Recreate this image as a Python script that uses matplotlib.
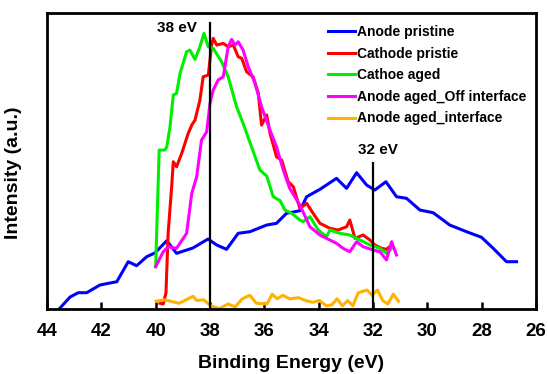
import numpy as np
import matplotlib.pyplot as plt

plt.rcParams['font.family'] = ['Liberation Sans', 'DejaVu Sans']
plt.rcParams['font.weight'] = 'bold'

# Anode pristine
ap_e = [43.52, 43.15, 42.85, 42.54, 42.05, 41.68, 41.43, 41.01, 40.70, 40.33, 40.03,
        39.59, 39.23, 38.63, 38.07, 37.75, 37.39, 36.96, 36.53, 35.91, 35.55, 35.18,
        34.69, 34.44, 33.95, 33.34, 32.97, 32.60, 32.23, 31.93, 31.52, 31.13, 30.76,
        30.27, 29.78, 29.17, 28.55, 28.00, 27.57, 27.08, 26.71]
ap_i = [1, 12, 16.3, 16.3, 24, 26, 27.3, 47.3, 43.3, 52.3, 56,
        68.3, 55.7, 61, 70, 64, 59.7, 75.7, 77.3, 84, 85.7, 95.7,
        98.3, 112.3, 119.7, 130.7, 120.7, 136.3, 124, 119, 127.3, 112.3, 110.7,
        99, 96.3, 84, 77.3, 71.7, 60.7, 47.3, 47.3]

# Cathode pristie
cp_e = [39.84, 39.72, 39.62, 39.54, 39.41, 39.35, 39.23, 39.04, 38.80, 38.67, 38.55,
        38.37, 38.25, 38.06, 37.94, 37.88, 37.75, 37.51, 37.33, 37.14, 36.96, 36.83,
        36.65, 36.41, 36.22, 36.10, 35.91, 35.79, 35.55, 35.36, 35.12, 34.93, 34.69,
        34.44, 34.20, 33.95, 33.58, 33.28, 32.97, 32.85, 32.66, 32.36, 32.11, 31.93,
        31.68, 31.50, 31.31]
cp_i = [5.7, 5, 16, 75.7, 122.3, 147.3, 142.3, 155.7, 175.7, 184, 189,
        209, 232.3, 234, 264, 270.7, 264, 265.7, 262.3, 264, 252.3, 250.7,
        237.3, 232.3, 215.7, 184, 194, 176, 152.3, 149, 127.3, 122.3, 100.7,
        105.7, 95.7, 85.7, 80.7, 79, 82.3, 89, 70.7, 74, 69, 64,
        60.7, 59.7, 64]

# Cathoe aged
ca_e = [40.0, 39.87, 39.66, 39.59, 39.47, 39.35, 39.23, 39.10, 38.86, 38.74, 38.55,
        38.37, 38.22, 38.06, 37.88, 37.57, 37.33, 37.02, 36.78, 36.47, 36.16, 35.91,
        35.67, 35.42, 35.24, 34.99, 34.69, 34.57, 34.32, 34.01, 33.71, 33.58, 33.22,
        32.85, 32.48, 32.11, 31.74, 31.50, 31.31]
ca_i = [42.3, 159, 159, 162.3, 182.3, 214, 215.7, 235.7, 257.3, 259, 249.7,
        262.3, 275.7, 262.3, 260.7, 247.3, 232.3, 202.3, 185.7, 162.3, 139, 133,
        112.3, 108.5, 99, 95.7, 89, 87.3, 92.3, 79, 72.3, 79, 75.7,
        74, 69, 64, 60.7, 55.7, 60.7]

# Anode aged_Off interface
ao_e = [40.0, 39.72, 39.54, 39.23, 38.86, 38.67, 38.49, 38.31, 38.12, 38.00, 37.88,
        37.70, 37.51, 37.33, 37.20, 37.08, 36.96, 36.78, 36.59, 36.34, 36.10, 35.79,
        35.55, 35.30, 35.06, 34.69, 34.32, 33.95, 33.71, 33.34, 33.10, 32.85, 32.60,
        32.36, 31.99, 31.74, 31.50, 31.31, 31.13]
ao_i = [42.3, 57.3, 62.3, 60.7, 75.7, 115.7, 132.3, 169, 177.3, 205.7, 219,
        229, 232.3, 262.3, 269.7, 264, 267.3, 259, 242.3, 225.7, 202.3, 179,
        162.3, 139, 120.5, 104, 82.3, 74, 70.7, 65.7, 60.7, 57.3, 67.3,
        62.3, 59, 57.3, 49, 67.3, 54]

# Anode aged_interface
ai_e = [39.98, 39.66, 39.14, 38.62, 38.49, 38.23, 37.97, 37.65, 37.33, 37.07, 36.81,
        36.53, 36.29, 35.90, 35.71, 35.52, 35.32, 35.06, 34.74, 34.48, 34.22, 33.97,
        33.71, 33.51, 33.32, 33.12, 32.93, 32.74, 32.54, 32.22, 32.03, 31.83, 31.64,
        31.45, 31.25, 31.06]
ai_i = [7.8, 9.2, 5.7, 12.7, 8.5, 9.2, 3.2, 0.5, 5, 2.1, 10.2,
        13.7, 5.7, 5, 14.8, 10.2, 13.7, 10.2, 11.3, 8.5, 6.7, 8.5,
        3.2, 4.2, 10.2, 3.2, 8.5, 3.2, 16.2, 19, 13.7, 19, 8.5,
        5, 14.8, 7.8]

fig = plt.figure(figsize=(5.48, 3.74), dpi=100)
ax = fig.add_axes([0.0858, 0.1738, 0.892, 0.7912])

ax.plot(ap_e, ap_i, color='#0000ff', lw=2.2, label='Anode pristine')
ax.plot(cp_e, cp_i, color='#ff0000', lw=2.2, label='Cathode pristie')
ax.plot(ca_e, ca_i, color='#00ee00', lw=2.2, label='Cathoe aged')
ax.plot(ao_e, ao_i, color='#ff00ff', lw=2.2, label='Anode aged_Off interface')
ax.plot(ai_e, ai_i, color='#ffb300', lw=2.2, label='Anode aged_interface')

# marker lines
ax.plot([38, 38], [0, 286], color='black', lw=1.6)
ax.plot([32, 32], [0, 146], color='black', lw=1.6)
ax.text(39.23, 281, '38 eV', ha='center', va='center', fontsize=11, fontweight='bold')
ax.text(31.82, 159, '32 eV', ha='center', va='center', fontsize=11, fontweight='bold')

ax.set_xlim(44, 26)
ax.set_ylim(0, 296)
ax.set_xticks(np.arange(44, 25, -2))
ax.set_yticks([])
ax.tick_params(axis='x', direction='in', length=5, width=1.8, labelsize=13.5, pad=10)
for lbl in ax.get_xticklabels():
    lbl.set_fontweight('bold')
for s in ax.spines.values():
    s.set_linewidth(2)

ax.set_xlabel('Binding Energy (eV)', fontsize=14, fontweight='bold', labelpad=11)
ax.set_ylabel('Intensity (a.u.)', fontsize=14, fontweight='bold', labelpad=9)
ax.yaxis.set_label_coords(-0.052, 0.46)

leg = ax.legend(loc='upper right', frameon=False, fontsize=10, handlelength=2.0,
                handletextpad=0.1, labelspacing=0.55, borderaxespad=0.3,
                bbox_to_anchor=(1.0, 0.993))
for t in leg.get_texts():
    t.set_fontweight('bold')

fig.savefig('out.png', dpi=100)
